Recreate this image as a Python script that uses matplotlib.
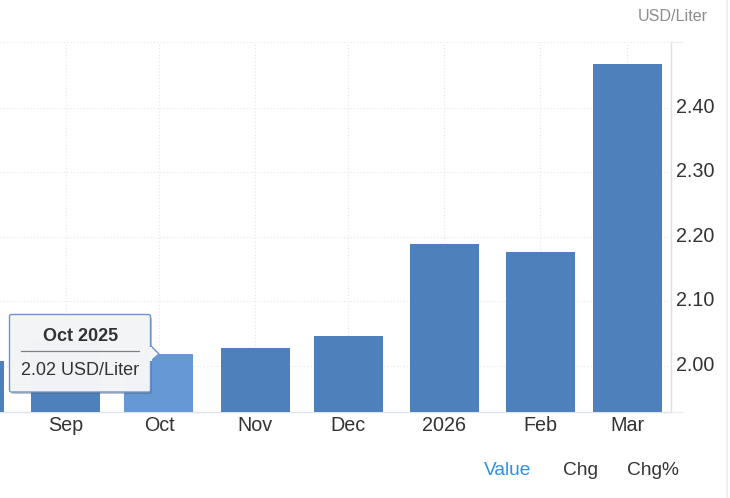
import matplotlib
matplotlib.use("Agg")
import matplotlib.pyplot as plt
import matplotlib.dates as mdates
from matplotlib.patches import FancyBboxPatch, Polygon, Rectangle
from matplotlib.transforms import ScaledTranslation
from datetime import datetime

plt.rcParams['font.family'] = ['Liberation Sans', 'DejaVu Sans']

months = ["2025-07-01", "2025-08-01", "2025-09-01", "2025-10-01", "2025-11-01", "2025-12-01", "2026-01-01", "2026-02-01", "2026-03-01"]
values = [2.05, 2.008, 2.038, 2.019, 2.028, 2.047, 2.189, 2.177, 2.468]
tick_labels = ["Sep", "Oct", "Nov", "Dec", "2026", "Feb", "Mar"]
y_ticks = [2.00, 2.10, 2.20, 2.30, 2.40]
highlight = "2025-10-01"
tooltip_title = "Oct 2025"
tooltip_body = "2.02 USD/Liter"
unit = "USD/Liter"
tabs = ["Value", "Chg", "Chg%"]

W, H = 730, 498
fig = plt.figure(figsize=(W/100, H/100), dpi=100, facecolor="white")
L, R, T, B = 0, 671, 42, 411.5
ax = fig.add_axes([L/W, 1-B/H, (R-L)/W, (B-T)/H])

dates = [datetime.strptime(m, "%Y-%m-%d") for m in months]
x = [mdates.date2num(d) for d in dates]
sep = mdates.date2num(datetime(2025, 9, 1))
px_per_day = 3.1
ax.set_xlim(sep - 66/px_per_day, sep + (R-66)/px_per_day)
ax.set_ylim(1.9295, 2.502)

BAR = "#4e80bc"
HOV = "#6798d6"
for m, xi, v in zip(months, x, values):
    ax.bar(xi, v - 1.9, bottom=1.9, width=69/px_per_day,
           color=HOV if m == highlight else BAR, zorder=3, linewidth=0)

ax.set_xticks(x[2:])
ax.set_xticklabels(tick_labels)
ax.set_yticks(y_ticks)
ax.set_yticklabels([f"{v:.2f}" for v in y_ticks])
ax.yaxis.tick_right()
ax.tick_params(axis='both', length=0, labelsize=14.2, labelcolor="#333333")
ax.tick_params(axis='x', pad=3)
ax.tick_params(axis='y', pad=3.5)
up = ScaledTranslation(0, 2.5/100, fig.dpi_scale_trans)
for lab in ax.get_yticklabels():
    lab.set_transform(lab.get_transform() + up)
ax.grid(True, color="#e6e6e6", linestyle=(0, (1, 2)), linewidth=0.8, zorder=0)
ax.axhline(2.502, color="#e6e6e6", linestyle=(0, (1, 2)), linewidth=0.8, zorder=0)
for s in ["top", "left"]:
    ax.spines[s].set_visible(False)
ax.spines["right"].set_color("#e0e0e0")
ax.spines["bottom"].set_color("#dfe3ec")
ax.spines["right"].set_linewidth(1)
ax.spines["bottom"].set_linewidth(1)

# Figure overlay in pixel coordinates
ov = fig.add_axes([0, 0, 1, 1], zorder=10)
ov.set_xlim(0, W)
ov.set_ylim(H, 0)
ov.axis("off")
ov.patch.set_alpha(0)

ov.plot([671, 682], [411.5, 411.5], color="#eeeeee", lw=1)
ov.plot([671, 682], [42, 42], color="#eeeeee", lw=1)
ov.plot([726.5, 726.5], [0, H], color="#ececec", lw=1.2)

ov.text(707.5, 16, unit, ha="right", va="center", fontsize=11.6, color="#8c8c8c")

# tooltip
ov.add_patch(FancyBboxPatch((11, 317), 141, 77, boxstyle="round,pad=0,rounding_size=2",
                            fc="#555555", ec="none", alpha=0.35, zorder=1))
ov.add_patch(Polygon([[151, 346], [159, 354], [151, 361]], closed=True, fc="#f5f6f8", ec="#6a93c8", lw=1, zorder=2))
ov.add_patch(FancyBboxPatch((9.5, 314.5), 141, 77.5, boxstyle="round,pad=0,rounding_size=2",
                            fc="#f5f6f8", ec="#6a93c8", lw=1, alpha=0.98, zorder=3))
ov.add_patch(Rectangle((149, 347), 2.5, 14, fc="#f5f6f8", ec="none", zorder=4))
ov.text(80.5, 336.5, tooltip_title, ha="center", va="center", fontsize=13, fontweight="bold", color="#333333", zorder=5)
ov.plot([21, 139], [350.5, 350.5], color="#808080", lw=0.9, zorder=5)
ov.text(80.5, 370, tooltip_body, ha="center", va="center", fontsize=13, color="#333333", zorder=5)

# tabs
for t, cx, c in zip(tabs, [507.5, 580, 652.5], ["#2f8fe8", "#333333", "#333333"]):
    ov.text(cx, 470, t, ha="center", va="center", fontsize=13.8, color=c)

fig.savefig("out.png", dpi=100)
